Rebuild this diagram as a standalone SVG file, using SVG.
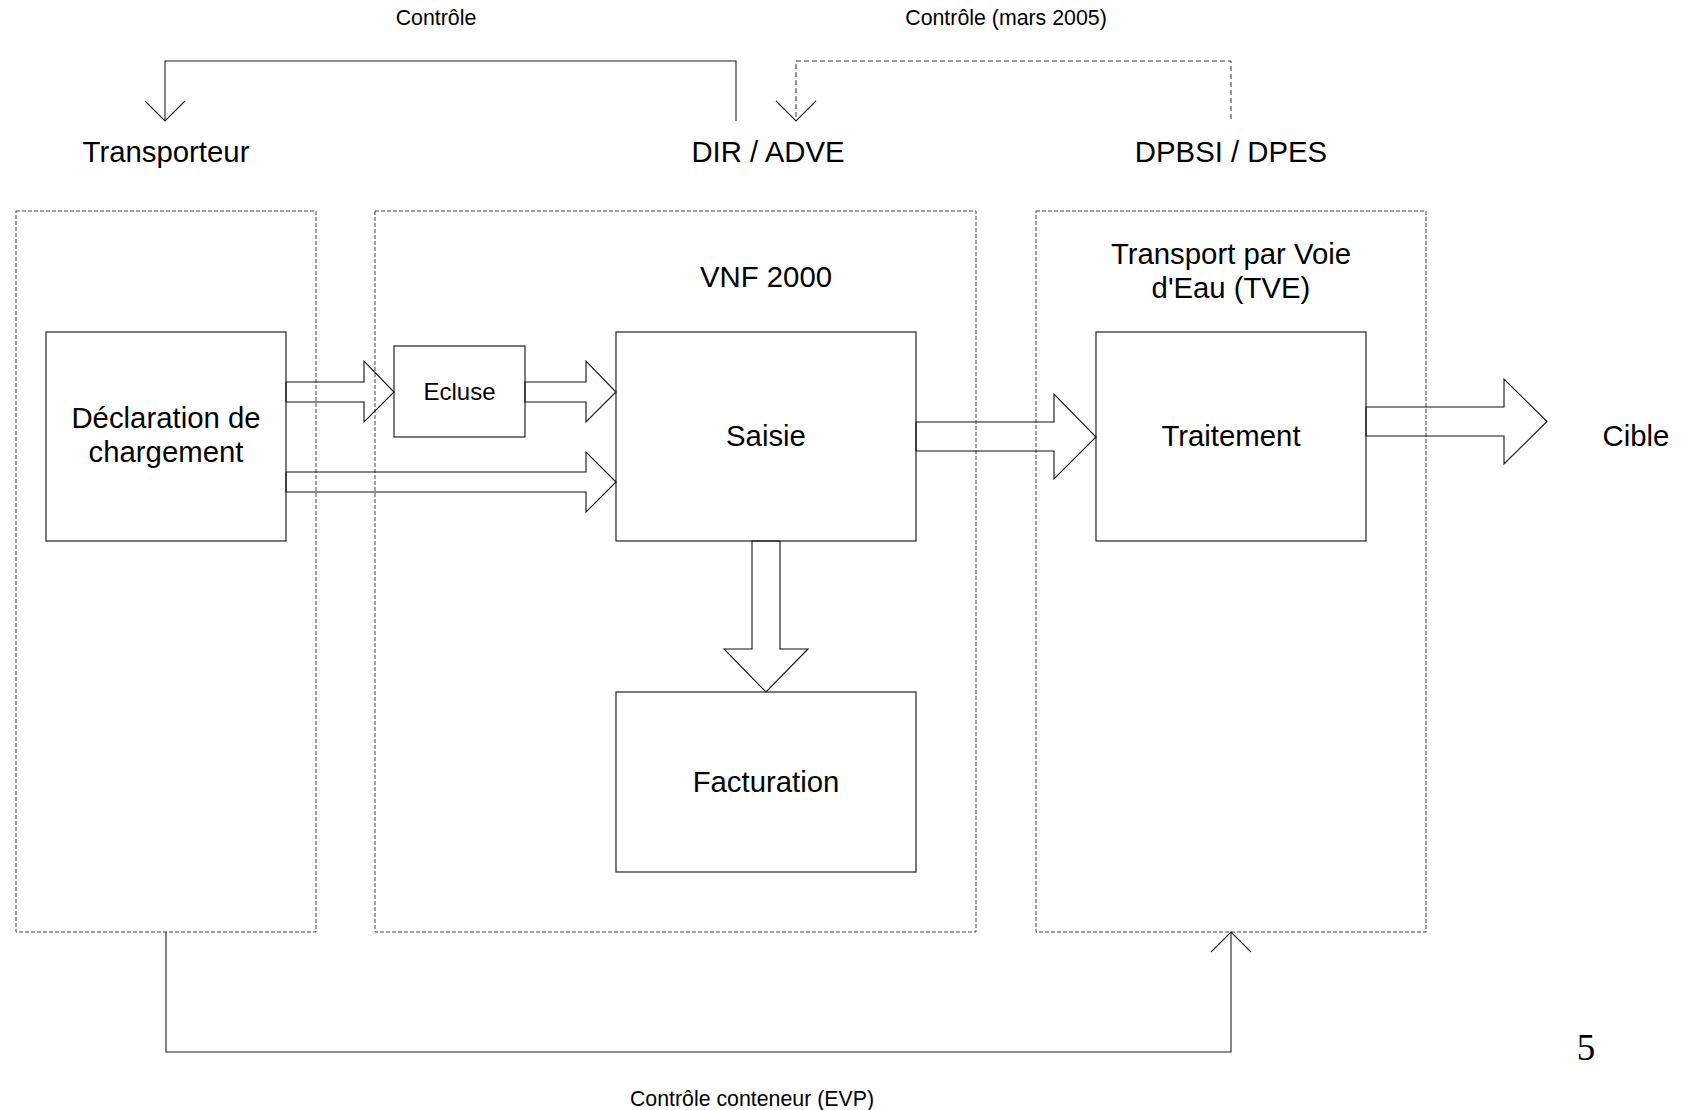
<svg xmlns="http://www.w3.org/2000/svg" width="1684" height="1110" viewBox="0 0 1684 1110">
<style>
.bg{fill:#ffffff}
.zone{fill:none;stroke:#444;stroke-width:1;stroke-dasharray:4 2}
.box{fill:#ffffff;stroke:#222;stroke-width:1.2}
.blk{fill:none;stroke:#111;stroke-width:1.1;stroke-linejoin:miter}
.ln{fill:none;stroke:#222;stroke-width:1.1}
.dln{fill:none;stroke:#333;stroke-width:1;stroke-dasharray:5 3}
.t{font-family:"Liberation Sans",Arial,sans-serif;font-size:29.33px;fill:#000;text-anchor:middle}
.s{font-family:"Liberation Sans",Arial,sans-serif;font-size:21.33px;fill:#000;text-anchor:middle}
.e{font-family:"Liberation Sans",Arial,sans-serif;font-size:24px;fill:#000;text-anchor:middle}
.n{font-family:"Liberation Serif","Times New Roman",serif;font-size:37px;fill:#000;text-anchor:middle}
</style>
<rect class="bg" x="0" y="0" width="1684" height="1110"/>

<g id="zone-transporteur"><rect class="zone" x="16" y="211" width="300" height="721"/></g>
<g id="zone-vnf"><rect class="zone" x="375" y="211" width="601" height="721"/>
<text class="t" x="766" y="287">VNF 2000</text></g>
<g id="zone-tve"><rect class="zone" x="1036" y="211" width="390" height="721"/>
<text class="t" x="1231" y="264">Transport par Voie</text>
<text class="t" x="1231" y="298">d'Eau (TVE)</text></g>

<g id="label-transporteur"><text class="t" x="166" y="162">Transporteur</text></g>
<g id="label-dir"><text class="t" x="768" y="162">DIR / ADVE</text></g>
<g id="label-dpbsi"><text class="t" x="1231" y="162">DPBSI / DPES</text></g>
<g id="label-cible"><text class="t" x="1636" y="446">Cible</text></g>

<g id="declaration"><rect class="box" x="46" y="332" width="240" height="209"/>
<text class="t" x="166" y="428">Déclaration de</text>
<text class="t" x="166" y="462">chargement</text></g>
<g id="ecluse"><rect class="box" x="394" y="346" width="131" height="91"/>
<text class="e" x="459.5" y="400">Ecluse</text></g>
<g id="saisie"><rect class="box" x="616" y="332" width="300" height="209"/>
<text class="t" x="766" y="446">Saisie</text></g>
<g id="facturation"><rect class="box" x="616" y="692" width="300" height="180"/>
<text class="t" x="766" y="792">Facturation</text></g>
<g id="traitement"><rect class="box" x="1096" y="332" width="270" height="209"/>
<text class="t" x="1231" y="446">Traitement</text></g>

<g id="connectors">
<polygon class="blk" points="286,382 364,382 364,361 394,392 364,422 364,402 286,402"/>
<polygon class="blk" points="525,382 586,382 586,361 616,392 586,422 586,402 525,402"/>
<polygon class="blk" points="286,472 586,472 586,452 616,482 586,512 586,492 286,492"/>
<polygon class="blk" points="916,422 1054,422 1054,394 1096,437 1054,479 1054,451 916,451"/>
<polygon class="blk" points="1366,407 1504,407 1504,379 1547,421.5 1504,464 1504,436 1366,436"/>
<polygon class="blk" points="752,541 752,649 724,649 766,692 808,649 780,649 780,541"/>

<polyline class="ln" points="736,121 736,61 165,61 165,121"/>
<polyline class="ln" points="145,101 165,121 185,101"/>
<text class="s" x="436" y="25">Contrôle</text>

<polyline class="dln" points="1231,119 1231,61 796,61 796,121"/>
<polyline class="ln" points="776,101 796,121 816,101"/>
<text class="s" x="1006" y="25">Contrôle (mars 2005)</text>

<polyline class="ln" points="166,932 166,1052 1231,1052 1231,932"/>
<polyline class="ln" points="1211,952 1231,932 1251,952"/>
<text class="s" x="752" y="1106">Contrôle conteneur (EVP)</text>
</g>

<g id="page-number"><text class="n" x="1586" y="1060">5</text></g>
</svg>
